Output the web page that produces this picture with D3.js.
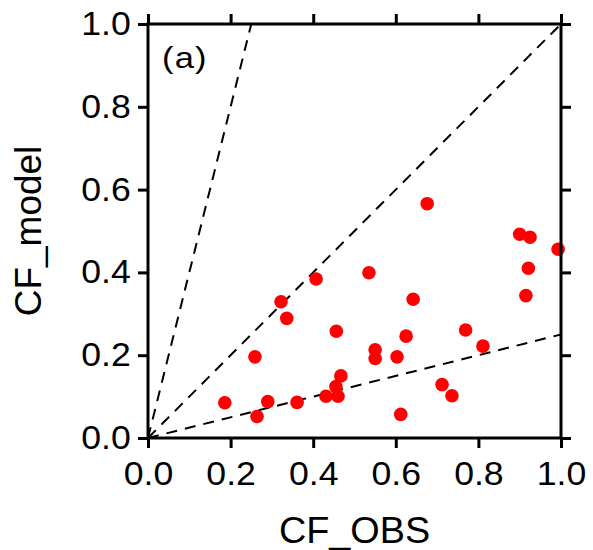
<!DOCTYPE html>
<html>
<head>
<meta charset="utf-8">
<script src="https://cdn.jsdelivr.net/npm/d3@7"></script>
<style>
  body { margin: 0; background: #fff; }
  text { font-family: "Liberation Sans", Arial, sans-serif; fill: #000; }
</style>
</head>
<body>
<div id="chart_div"></div>
<script>
//data
var cfObs   = [0.186, 0.259, 0.264, 0.290, 0.322, 0.336, 0.361, 0.407, 0.431, 0.456,
               0.455, 0.460, 0.467, 0.535, 0.550, 0.550, 0.603, 0.612, 0.625, 0.642,
               0.676, 0.712, 0.736, 0.769, 0.811, 0.900, 0.925, 0.993, 0.921, 0.915];
var cfModel = [0.085, 0.196, 0.052, 0.088, 0.329, 0.289, 0.086, 0.384, 0.101, 0.258,
               0.124, 0.101, 0.150, 0.399, 0.213, 0.192, 0.196, 0.057, 0.246, 0.335,
               0.566, 0.129, 0.102, 0.261, 0.222, 0.492, 0.485, 0.456, 0.410, 0.344];
var ratioLines = [4, 1, 0.25];
var tickValues = [0, 0.2, 0.4, 0.6, 0.8, 1.0];

//globals
var width = 593;
var height = 550;
var margin = {left: 148, right: 32, top: 24, bottom: 112};
var fmt = d3.format(".1f");
var stretch = 1.08;   // the source text looks a little wide

var svg = d3.select("#chart_div")
    .append("svg")
    .attr("width", width)
    .attr("height", height);

var x = d3.scaleLinear().domain([0, 1]).range([margin.left, width - margin.right]);
var y = d3.scaleLinear().domain([0, 1]).range([height - margin.bottom, margin.top]);

svg.append("clipPath")
    .attr("id", "plotclip")
    .append("rect")
    .attr("x", x(0)).attr("y", y(1))
    .attr("width", x(1) - x(0)).attr("height", y(0) - y(1));

// dashed ratio lines 4:1, 1:1, 1:4
svg.append("g")
    .attr("clip-path", "url(#plotclip)")
    .selectAll("line")
    .data(ratioLines)
    .enter()
    .append("line")
    .attr("x1", x(0))
    .attr("y1", y(0))
    .attr("x2", function(d) { return x(Math.min(1, 1 / d)); })
    .attr("y2", function(d) { return y(Math.min(1, d)); })
    .attr("stroke", "#000")
    .attr("stroke-width", 2)
    .attr("stroke-dasharray", "11,8");

// points
svg.append("g")
    .selectAll("circle")
    .data(cfObs)
    .enter()
    .append("circle")
    .attr("cx", function(d) { return x(d); })
    .attr("cy", function(d, i) { return y(cfModel[i]); })
    .attr("r", 6.8)
    .attr("fill", "#ff0000");

// axes
function styleAxis(g) {
    g.select(".domain").remove();
    g.selectAll(".tick line").attr("stroke", "#000").attr("stroke-width", 3);
    g.selectAll(".tick text")
        .style("font-family", "'Liberation Sans', Arial, sans-serif")
        .style("font-size", "33px")
        .attr("fill", "#000")
        .attr("transform", "scale(" + stretch + ",1)");
}

svg.append("g")
    .attr("transform", "translate(0," + y(0) + ")")
    .call(d3.axisBottom(x).tickValues(tickValues).tickFormat(fmt).tickSize(10).tickPadding(14))
    .call(styleAxis);

svg.append("g")
    .attr("transform", "translate(" + x(0) + ",0)")
    .call(d3.axisLeft(y).tickValues(tickValues).tickFormat(fmt).tickSize(10).tickPadding(6))
    .call(styleAxis);

svg.append("g")
    .attr("transform", "translate(0," + y(1) + ")")
    .call(d3.axisTop(x).tickValues(tickValues).tickFormat("").tickSize(10))
    .call(styleAxis);

svg.append("g")
    .attr("transform", "translate(" + x(1) + ",0)")
    .call(d3.axisRight(y).tickValues(tickValues).tickFormat("").tickSize(10))
    .call(styleAxis);

// frame
svg.append("rect")
    .attr("x", x(0)).attr("y", y(1))
    .attr("width", x(1) - x(0)).attr("height", y(0) - y(1))
    .attr("fill", "none")
    .attr("stroke", "#000")
    .attr("stroke-width", 3);

// titles
svg.append("text")
    .attr("transform", "translate(" + (x(0) + x(1)) / 2 + ",543) scale(1.05,1)")
    .attr("text-anchor", "middle")
    .style("font-size", "36px")
    .text("CF_OBS");

svg.append("text")
    .attr("transform", "translate(41," + (y(0) + y(1)) / 2 + ") rotate(-90)")
    .attr("text-anchor", "middle")
    .style("font-size", "37px")
    .text("CF_model");

svg.append("text")
    .attr("transform", "translate(162,68) scale(1.15,1)")
    .style("font-size", "30px")
    .style("letter-spacing", "1px")
    .text("(a)");
</script>
</body>
</html>
